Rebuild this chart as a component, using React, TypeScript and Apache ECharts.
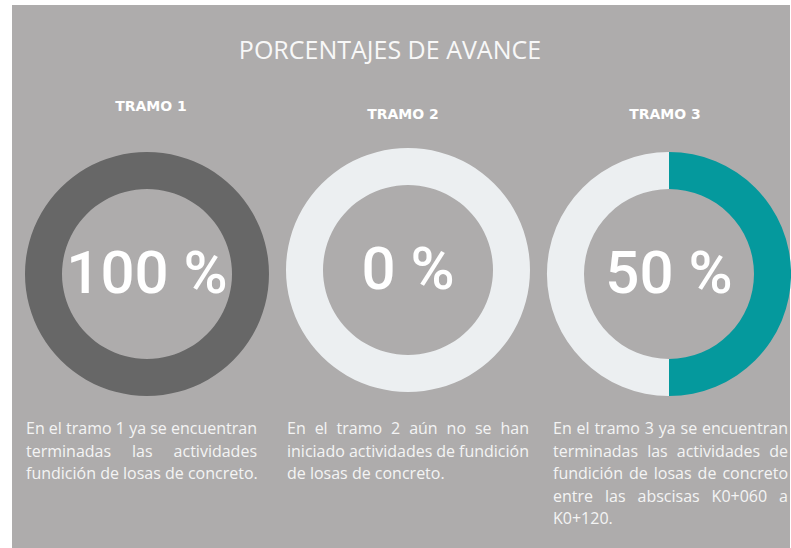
import React, { useEffect, useRef } from "react";
import * as echarts from "echarts";

const titulo = "PORCENTAJES DE AVANCE";
const tramos = ["TRAMO 1", "TRAMO 2", "TRAMO 3"];
const avance = [100, 0, 50];
const restante = avance.map((v) => 100 - v);
const colorAvance = ["#676767", "#676767", "#05999D"];
const colorRestante = "#ECEFF1";
const descripcion1 = [
  "En el tramo 1 ya se encuentran",
  "terminadas las actividades",
  "fundición de losas de concreto.",
];
const descripcion2 = [
  "En el tramo 2 aún no se han",
  "iniciado actividades de fundición",
  "de losas de concreto.",
];
const descripcion3 = [
  "En el tramo 3 ya se encuentran",
  "terminadas las actividades de",
  "fundición de losas de concreto",
  "entre las abscisas K0+060 a",
  "K0+120.",
];
const descripciones = [descripcion1, descripcion2, descripcion3];

// layout
const W = 791;
const H = 548;
const BG = "#AEACAC";
const centros = [
  [147, 274],
  [408, 270],
  [669, 274],
];
const etiquetaPos = [
  [151, 106],
  [403, 114],
  [665, 114],
];
const columnas = [
  [26, 257],
  [287, 529],
  [553, 788],
];
const DESC_FONT = "'Open Sans', sans-serif";
const LINE_Y0 = 428;
const LINE_H = 22.5;

export default function App() {
  const ref = useRef<HTMLDivElement>(null);
  useEffect(() => {
    document.body.style.margin = "0";
    const chart = echarts.init(ref.current!, undefined, { renderer: "svg" });
    const canvas = document.createElement("canvas");
    const ctx = canvas.getContext("2d")!;
    ctx.font = `14px 'Open Sans'`;
    // size the description font so the first line of column 1 fills its width naturally
    const natural = ctx.measureText(descripcion1[0]).width;
    const descSize = Math.min(16, Math.max(13, (14 * (columnas[0][1] - columnas[0][0])) / natural));
    ctx.font = `${descSize}px 'Open Sans'`;
    const measure = (s: string) => ctx.measureText(s).width;

    const graphics: any[] = [
      {
        type: "rect",
        z: -10,
        shape: { x: 12, y: 5, width: W - 13, height: H - 5 },
        style: { fill: BG },
        silent: true,
      },
      {
        type: "text",
        x: 390,
        y: 49,
        style: {
          text: titulo,
          fill: "#F8F8F8",
          font: "normal 25px 'Open Sans', sans-serif",
          textAlign: "center",
          textVerticalAlign: "middle",
        },
      },
    ];

    tramos.forEach((t, i) => {
      graphics.push({
        type: "text",
        x: etiquetaPos[i][0],
        y: etiquetaPos[i][1],
        z: 10,
        style: {
          text: t,
          fill: "#FFFFFF",
          font: "bold 14px 'DejaVu Sans', sans-serif",
          textAlign: "center",
          textVerticalAlign: "middle",
        },
      });
      graphics.push({
        type: "text",
        x: centros[i][0],
        y: centros[i][1] - 2,
        z: 10,
        style: {
          text: `${avance[i]} %`,
          fill: "#FFFFFF",
          font: "500 60px Roboto, 'Liberation Sans', sans-serif",
          textAlign: "center",
          textVerticalAlign: "middle",
        },
      });
    });

    descripciones.forEach((lines, c) => {
      const [x0, x1] = columnas[c];
      const width = x1 - x0;
      lines.forEach((line, li) => {
        const y = LINE_Y0 + li * LINE_H;
        const isLast = li === lines.length - 1;
        if (isLast) {
          graphics.push({
            type: "text",
            x: x0,
            y,
            style: {
              text: line,
              fill: "#F4F4F4",
              font: `normal ${descSize}px ${DESC_FONT}`,
              textAlign: "left",
              textVerticalAlign: "middle",
            },
          });
          return;
        }
        const words = line.split(" ");
        const widths = words.map((w) => measure(w));
        const total = widths.reduce((a, b) => a + b, 0);
        const gap = words.length > 1 ? (width - total) / (words.length - 1) : 0;
        let x = x0;
        words.forEach((w, wi) => {
          graphics.push({
            type: "text",
            x,
            y,
            style: {
              text: w,
              fill: "#F4F4F4",
              font: `normal ${descSize}px ${DESC_FONT}`,
              textAlign: "left",
              textVerticalAlign: "middle",
            },
          });
          x += widths[wi] + gap;
        });
      });
    });

    const series = avance.map((v, i) => ({
      type: "pie",
      silent: true,
      center: centros[i],
      radius: [85, 122],
      startAngle: 90,
      clockwise: true,
      minAngle: 0,
      avoidLabelOverlap: false,
      label: { show: false },
      labelLine: { show: false },
      emphasis: { disabled: true },
      itemStyle: { borderWidth: 0 },
      data: [
        { name: "Avance", value: v, itemStyle: { color: colorAvance[i] } },
        { name: "Restante", value: restante[i], itemStyle: { color: colorRestante } },
      ],
    }));

    chart.setOption({
      animation: false,
      backgroundColor: "#FFFFFF",
      graphic: graphics,
      series,
    });
    return () => chart.dispose();
  }, []);
  return <div ref={ref} style={{ width: W, height: H }} />;
}
